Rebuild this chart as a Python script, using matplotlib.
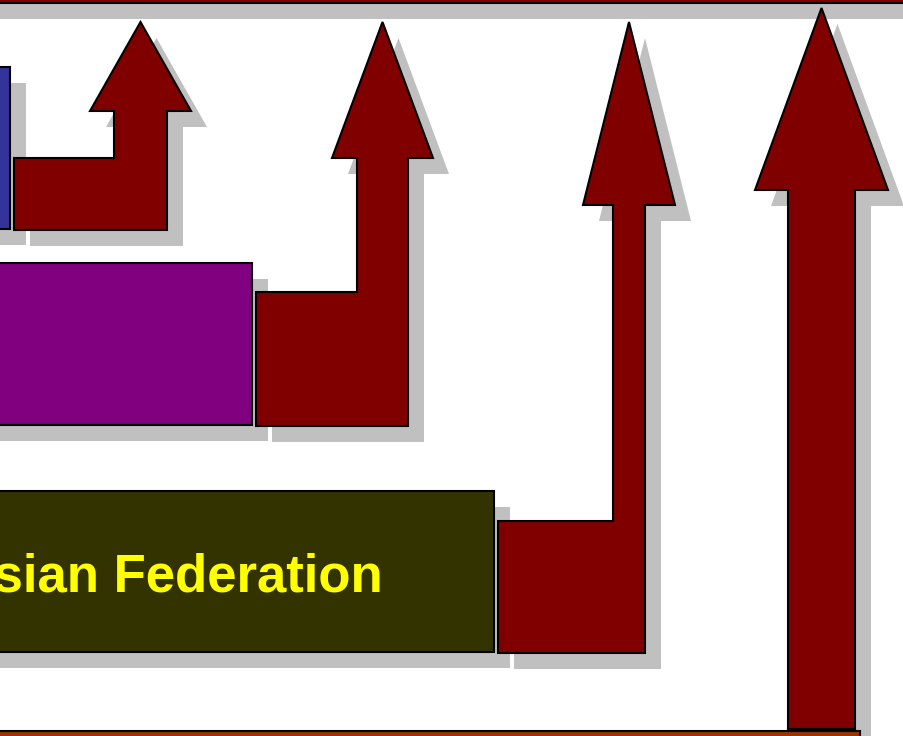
import matplotlib
matplotlib.use("Agg")
import matplotlib.pyplot as plt
from matplotlib.patches import Polygon, Rectangle

# stacked blocks, each with an elbow arrow rising to the top band
bar_labels = ["", "", "Russian Federation"]
bar_right = [10, 252, 494]
bar_top = [67, 263, 491]
bar_bottom = [229, 425, 652]
bar_colors = ["#333399", "#800080", "#333300"]

# arrows: box left, box top, stem left/right, head base, head left/right, tip, bottom
arrow_box_left = [14, 256, 498, 788]
arrow_box_top = [158, 292, 521, 729]
arrow_stem = [(114, 167), (357, 408), (613, 645), (788, 855)]
arrow_head_y = [111, 158, 205, 190]
arrow_head = [(90, 191), (332, 433), (583, 675), (755, 888)]
arrow_tip_y = [22, 22, 22, 8]
arrow_bottom = [230, 426, 653, 729]

W, H = 904, 736
SHADOW = 16
shadow_col = "#c0c0c0"
arrow_col = "#800000"

fig = plt.figure(figsize=(W / 100, H / 100), dpi=100)
ax = fig.add_axes([0, 0, 1, 1])
ax.set_xlim(0, W)
ax.set_ylim(H, 0)
ax.axis("off")


def arrow_pts(i, dx=0, dy=0):
    x0, yt, yb = arrow_box_left[i], arrow_box_top[i], arrow_bottom[i]
    sl, sr = arrow_stem[i]
    hl, hr = arrow_head[i]
    yh, ytip = arrow_head_y[i], arrow_tip_y[i]
    pts = [(x0, yb), (x0, yt), (sl, yt), (sl, yh), (hl, yh),
           ((hl + hr) / 2, ytip), (hr, yh), (sr, yh), (sr, yb)]
    return [(x + dx, y + dy) for x, y in pts]


# top and bottom bands
bands = [(-20, -20, W + 40, 23, arrow_col), (-20, 731, 880, 30, "#993300")]

# shadows first so every shape sits over them
for x, y, w, h, c in bands:
    ax.add_patch(Rectangle((x + SHADOW, y + SHADOW), w, h, fc=shadow_col, ec="none"))
for i in range(len(bar_right)):
    ax.add_patch(Rectangle((-20 + SHADOW, bar_top[i] + SHADOW), bar_right[i] + 20,
                           bar_bottom[i] - bar_top[i], fc=shadow_col, ec="none"))
for i in range(len(arrow_stem)):
    ax.add_patch(Polygon(arrow_pts(i, SHADOW, SHADOW), closed=True, fc=shadow_col, ec="none"))

for x, y, w, h, c in bands:
    ax.add_patch(Rectangle((x, y), w, h, fc=c, ec="black", lw=1.5))
for i in range(len(bar_right)):
    ax.add_patch(Rectangle((-20, bar_top[i]), bar_right[i] + 20,
                           bar_bottom[i] - bar_top[i], fc=bar_colors[i], ec="black", lw=1.5))
    if bar_labels[i]:
        ax.text(383, 591, bar_labels[i],
                ha="right", va="baseline", color="#ffff00", fontsize=38,
                fontweight="bold", family="Liberation Sans")
for i in range(len(arrow_stem)):
    ax.add_patch(Polygon(arrow_pts(i), closed=True, fc=arrow_col, ec="black", lw=1.5))

fig.savefig("out.png", dpi=100)
